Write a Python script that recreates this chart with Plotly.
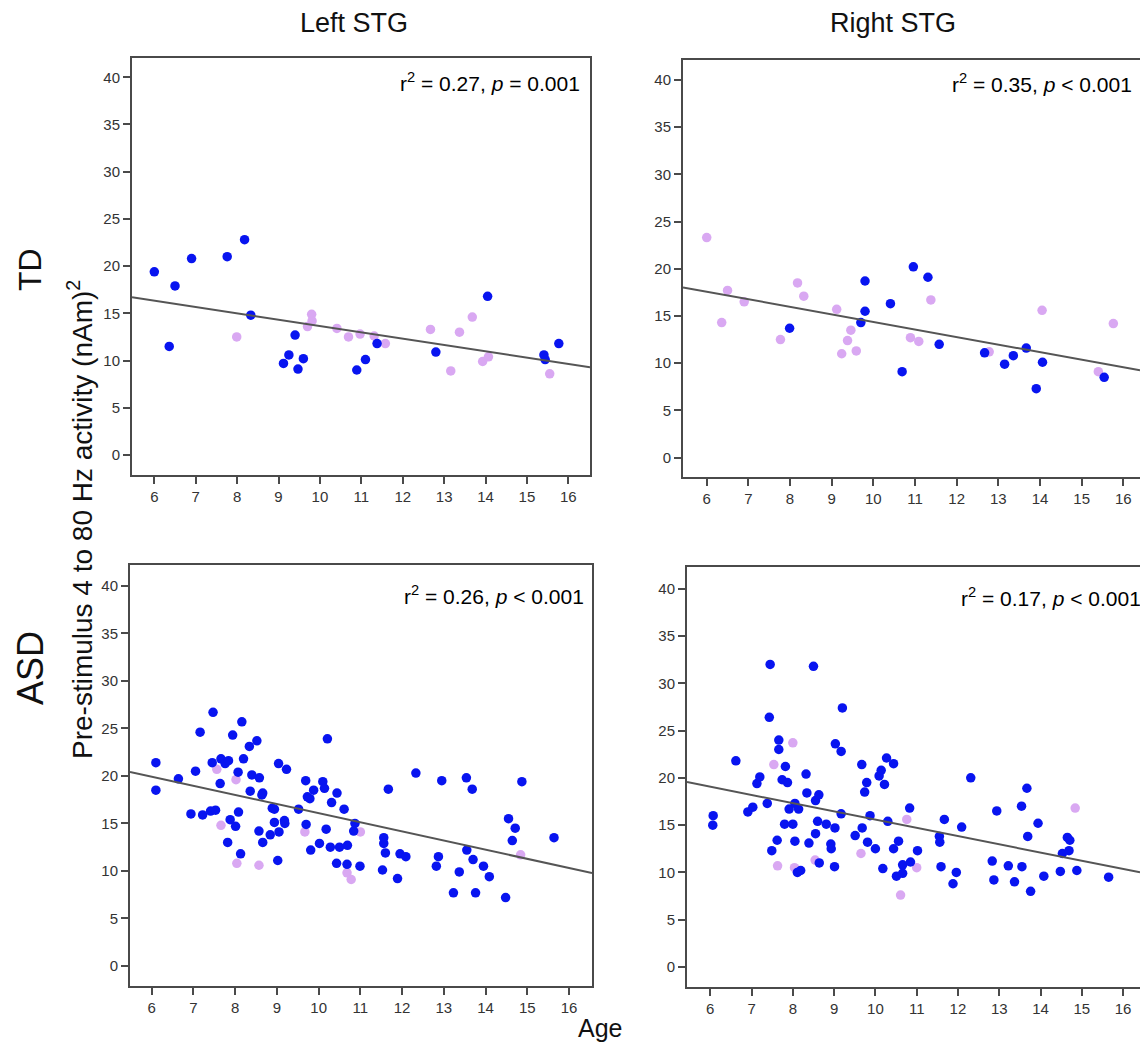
import plotly.graph_objects as go

W, H = 1140, 1045
FONT = "Liberation Sans, Arial, sans-serif"
BLUE = "#0814F0"
PINK = "#D9A8F2"

# ---------------- data (age, activity) ----------------
# TD - Left STG
td_left_blue_x = [6.0, 6.36, 6.50, 6.90, 7.76, 8.18, 8.33, 9.12, 9.25, 9.40, 9.47, 9.60, 10.89, 11.10, 11.38, 12.80, 14.05, 15.41, 15.44, 15.77]
td_left_blue_y = [19.4, 11.5, 17.9, 20.8, 21.0, 22.8, 14.8, 9.7, 10.6, 12.7, 9.1, 10.2, 9.0, 10.1, 11.8, 10.9, 16.8, 10.6, 10.1, 11.8]
td_left_pink_x = [7.99, 9.80, 9.81, 9.70, 10.41, 10.69, 10.97, 11.31, 11.58, 12.67, 13.16, 13.37, 13.68, 13.93, 14.07, 15.55]
td_left_pink_y = [12.5, 14.9, 14.2, 13.6, 13.4, 12.5, 12.8, 12.6, 11.8, 13.3, 8.9, 13.0, 14.6, 9.9, 10.4, 8.6]

# TD - Right STG
td_right_blue_x = [7.99, 9.80, 9.80, 9.70, 10.41, 10.69, 10.96, 11.31, 11.58, 12.67, 13.15, 13.36, 13.67, 13.91, 14.06, 15.54]
td_right_blue_y = [13.7, 18.7, 15.5, 14.3, 16.3, 9.1, 20.2, 19.1, 12.0, 11.1, 9.9, 10.8, 11.6, 7.3, 10.1, 8.5]
td_right_pink_x = [6.0, 6.36, 6.50, 6.90, 7.77, 8.18, 8.33, 9.12, 9.24, 9.38, 9.46, 9.59, 10.89, 11.09, 11.38, 12.78, 14.05, 15.40, 15.76]
td_right_pink_y = [23.3, 14.3, 17.7, 16.5, 12.5, 18.5, 17.1, 15.7, 11.0, 12.4, 13.5, 11.3, 12.7, 12.3, 16.7, 11.2, 15.6, 9.1, 14.2]

# ASD - Left STG
asd_left_blue_x = [6.10, 6.10, 6.64, 6.94, 7.05, 7.16, 7.22, 7.41, 7.47, 7.45, 7.53, 7.64, 7.66, 7.76, 7.84,
                   7.88, 7.82, 7.94, 8.01, 8.07, 8.08, 8.13, 8.16, 8.20, 8.34, 8.36, 8.40, 8.52, 8.58, 8.66,
                   8.64, 8.57, 8.66, 8.84, 8.89, 8.94, 8.94, 9.02, 9.04, 9.05, 9.18, 9.19, 9.23, 9.52, 9.69,
                   9.70, 9.73, 9.79, 9.81, 9.88, 10.02, 10.10, 10.14, 10.21, 10.18, 10.28, 10.31, 10.44, 10.50, 10.43,
                   10.61, 10.69, 10.68, 10.87, 10.84, 10.99, 11.53, 11.56, 11.56, 11.60, 11.67, 11.89, 11.95, 12.09, 12.33,
                   12.82, 12.87, 12.95, 13.23, 13.37, 13.54, 13.55, 13.68, 13.70, 13.76, 13.95, 14.09, 14.48, 14.55, 14.71,
                   14.64, 14.87, 15.64]
asd_left_blue_y = [21.4, 18.5, 19.7, 16.0, 20.5, 24.6, 15.9, 16.3, 26.7, 21.4, 16.4, 19.2, 21.8, 21.3, 21.6,
                   15.4, 13.0, 24.3, 14.7, 20.4, 16.2, 11.8, 25.7, 21.8, 23.1, 18.4, 20.1, 23.7, 19.8, 18.2,
                   18.0, 14.2, 13.0, 13.8, 16.6, 16.5, 15.1, 11.1, 21.3, 14.1, 15.3, 15.0, 20.7, 16.5, 19.5,
                   14.9, 17.8, 17.6, 12.2, 18.5, 12.9, 19.4, 18.7, 23.9, 14.4, 12.5, 17.2, 18.2, 12.5, 10.8,
                   16.5, 12.7, 10.7, 15.0, 14.2, 10.5, 10.1, 13.5, 12.9, 11.9, 18.6, 9.2, 11.8, 11.5, 20.3,
                   10.5, 11.5, 19.5, 7.7, 9.9, 19.8, 12.2, 18.6, 11.2, 7.7, 10.5, 9.4, 7.2, 15.5, 14.5,
                   13.2, 19.4, 13.5]
asd_left_pink_x = [7.56, 7.66, 8.02, 8.04, 8.57, 9.67, 10.68, 10.78, 11.0, 14.84]
asd_left_pink_y = [20.7, 14.8, 19.6, 10.8, 10.6, 14.1, 9.8, 9.1, 14.1, 11.7]

# ASD - Right STG
asd_right_blue_x = [6.07, 6.06, 6.62, 6.91, 7.03, 7.13, 7.20, 7.38, 7.45, 7.43, 7.49, 7.62, 7.66, 7.66, 7.82,
                    7.74, 7.87, 7.80, 7.91, 8.00, 8.05, 8.14, 8.05, 8.11, 8.19, 8.32, 8.34, 8.39, 8.50, 8.55,
                    8.63, 8.60, 8.55, 8.64, 8.81, 9.03, 9.17, 9.20, 9.17, 9.02, 8.92, 8.93, 9.01, 9.51, 9.68,
                    9.67, 9.79, 9.74, 9.81, 9.87, 10.00, 10.09, 10.14, 10.22, 10.27, 10.30, 10.18, 10.44, 10.44, 10.51,
                    10.56, 10.66, 10.66, 10.83, 10.85, 11.02, 11.59, 11.55, 11.56, 11.67, 11.88, 11.96, 12.09, 12.31, 12.83,
                    12.87, 12.94, 13.22, 13.37, 13.55, 13.54, 13.67, 13.69, 13.76, 13.94, 14.08, 14.48, 14.53, 14.65, 14.71,
                    14.69, 14.88, 15.65]
asd_right_blue_y = [16.0, 15.0, 21.8, 16.4, 16.9, 19.4, 20.1, 17.3, 32.0, 26.4, 12.3, 13.4, 24.0, 23.0, 21.2,
                    19.8, 19.5, 15.1, 16.7, 15.1, 17.3, 16.7, 13.3, 10.0, 10.2, 20.4, 18.4, 13.1, 31.8, 17.6,
                    18.2, 15.4, 14.1, 11.0, 15.1, 23.6, 22.8, 27.4, 16.2, 14.7, 13.0, 12.5, 10.6, 13.9, 14.7,
                    21.4, 19.5, 18.5, 13.2, 16.0, 12.5, 20.2, 20.8, 19.3, 22.1, 15.4, 10.4, 21.5, 12.5, 9.6,
                    13.3, 9.9, 10.8, 16.8, 11.1, 12.3, 10.6, 13.8, 13.2, 15.6, 8.8, 10.0, 14.8, 20.0, 11.2,
                    9.2, 16.5, 10.7, 9.0, 10.6, 17.0, 18.9, 13.8, 8.0, 15.2, 9.6, 10.1, 12.0, 13.7, 13.4,
                    12.3, 10.2, 9.5]
asd_right_pink_x = [7.54, 7.63, 8.00, 8.04, 8.54, 9.65, 10.61, 10.76, 11.0, 14.84]
asd_right_pink_y = [21.4, 10.7, 23.7, 10.5, 11.3, 12.0, 7.6, 15.6, 10.5, 16.8]

# regression lines (slope, intercept)
fit_slope = [-0.670, -0.800, -0.962, -0.870]
fit_intercept = [20.36, 22.37, 25.70, 24.28]

stats_text = ["r<sup>2</sup> = 0.27, <i>p</i> = 0.001",
              "r<sup>2</sup> = 0.35, <i>p</i> &lt; 0.001",
              "r<sup>2</sup> = 0.26, <i>p</i> &lt; 0.001",
              "r<sup>2</sup> = 0.17, <i>p</i> &lt; 0.001"]
col_titles = ["Left STG", "Right STG"]
row_titles = ["TD", "ASD"]
x_ticks = list(range(6, 17))
y_ticks = list(range(0, 41, 5))

# ---------------- layout geometry (pixels) ----------------
panels = [
    dict(px=(132, 590), py=(58, 475), xr=[5.461, 16.523], yr=[-2.12, 42.04], right=True),
    dict(px=(683, 1140), py=(60, 477), xr=[5.431, 16.40], yr=[-2.05, 42.10], right=False),
    dict(px=(130, 592), py=(565, 986), xr=[5.48, 16.55], yr=[-2.11, 42.20], right=True),
    dict(px=(687, 1140), py=(567, 987), xr=[5.436, 16.41], yr=[-2.12, 42.30], right=False),
]

series = [
    (td_left_blue_x, td_left_blue_y, td_left_pink_x, td_left_pink_y),
    (td_right_blue_x, td_right_blue_y, td_right_pink_x, td_right_pink_y),
    (asd_left_blue_x, asd_left_blue_y, asd_left_pink_x, asd_left_pink_y),
    (asd_right_blue_x, asd_right_blue_y, asd_right_pink_x, asd_right_pink_y),
]

fig = go.Figure()
layout = dict(
    width=W, height=H, margin=dict(l=0, r=0, t=0, b=0),
    paper_bgcolor="white", plot_bgcolor="white", showlegend=False,
    font=dict(family=FONT, color="#000"),
)

def xp(px):
    return px / W

def yp(py):
    return (H - py) / H

for i, (p, s) in enumerate(zip(panels, series)):
    k = "" if i == 0 else str(i + 1)
    xa, ya = "x" + k, "y" + k
    bx, by, kx, ky = s
    fig.add_trace(go.Scatter(x=kx, y=ky, mode="markers", xaxis=xa, yaxis=ya,
                             marker=dict(color=PINK, size=9.5, line=dict(width=0))))
    fig.add_trace(go.Scatter(x=bx, y=by, mode="markers", xaxis=xa, yaxis=ya,
                             marker=dict(color=BLUE, size=9.5, line=dict(width=0))))
    lx = [p["xr"][0], p["xr"][1]]
    ly = [fit_intercept[i] + fit_slope[i] * v for v in lx]
    fig.add_trace(go.Scatter(x=lx, y=ly, mode="lines", xaxis=xa, yaxis=ya,
                             line=dict(color="#555555", width=2)))
    common = dict(showgrid=False, zeroline=False, showline=True, linecolor="#4a4a4a", linewidth=2,
                  ticks="outside", ticklen=7, tickwidth=2, tickcolor="#4a4a4a",
                  tickfont=dict(family=FONT, size=15, color="#333333"), fixedrange=True)
    layout["xaxis" + k] = dict(common, domain=[xp(p["px"][0]), xp(p["px"][1])], range=p["xr"],
                               tickvals=x_ticks, anchor=ya, mirror=True)
    layout["yaxis" + k] = dict(common, domain=[yp(p["py"][1]), yp(p["py"][0])], range=p["yr"],
                               tickvals=y_ticks, anchor=xa, mirror=p["right"])

annotations = []
stat_pos = [(582, 82), (1134, 83), (586, 595), (1143, 597)]
for t, (ax, ay) in zip(stats_text, stat_pos):
    annotations.append(dict(text=t, x=xp(ax), y=yp(ay), xref="paper", yref="paper",
                            xanchor="right", yanchor="middle", showarrow=False,
                            font=dict(family=FONT, size=21, color="#000")))
for t, cx in zip(col_titles, [354, 893]):
    annotations.append(dict(text=t, x=xp(cx), y=yp(23), xref="paper", yref="paper",
                            xanchor="center", yanchor="middle", showarrow=False,
                            font=dict(family=FONT, size=27, color="#111")))
for t, cy, sz in zip(row_titles, [270, 668], [32, 36]):
    annotations.append(dict(text=t, x=xp(30), y=yp(cy), xref="paper", yref="paper",
                            xanchor="center", yanchor="middle", showarrow=False, textangle=-90,
                            font=dict(family=FONT, size=sz, color="#111")))
annotations.append(dict(text="Pre-stimulus 4 to 80 Hz activity (nAm)<sup>2</sup>", x=xp(80), y=yp(520),
                        xref="paper", yref="paper", xanchor="center", yanchor="middle",
                        showarrow=False, textangle=-90,
                        font=dict(family=FONT, size=28, color="#111")))
annotations.append(dict(text="Age", x=xp(600), y=yp(1028), xref="paper", yref="paper",
                        xanchor="center", yanchor="middle", showarrow=False,
                        font=dict(family=FONT, size=25, color="#111")))
layout["annotations"] = annotations

fig.update_layout(**layout)
fig.write_html("out.html", config={"displayModeBar": False},
               post_script="document.body.style.margin='0';document.body.style.overflow='hidden';")
